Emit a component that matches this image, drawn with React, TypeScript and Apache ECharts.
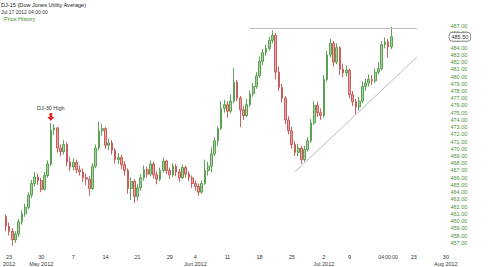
import React, { useEffect, useRef } from 'react';
import * as echarts from 'echarts';

// Trading days shown on the axis (Apr 20 has one bar, Jul 30 one future slot)
const tradingDays: string[] = [
  '2012-04-20',
  '2012-04-23', '2012-04-24', '2012-04-25', '2012-04-26', '2012-04-27',
  '2012-04-30', '2012-05-01', '2012-05-02', '2012-05-03', '2012-05-04',
  '2012-05-07', '2012-05-08', '2012-05-09', '2012-05-10', '2012-05-11',
  '2012-05-14', '2012-05-15', '2012-05-16', '2012-05-17', '2012-05-18',
  '2012-05-21', '2012-05-22', '2012-05-23', '2012-05-24', '2012-05-25',
  '2012-05-29', '2012-05-30', '2012-05-31', '2012-06-01',
  '2012-06-04', '2012-06-05', '2012-06-06', '2012-06-07', '2012-06-08',
  '2012-06-11', '2012-06-12', '2012-06-13', '2012-06-14', '2012-06-15',
  '2012-06-18', '2012-06-19', '2012-06-20', '2012-06-21', '2012-06-22',
  '2012-06-25', '2012-06-26', '2012-06-27', '2012-06-28', '2012-06-29',
  '2012-07-02', '2012-07-03', '2012-07-05', '2012-07-06',
  '2012-07-09', '2012-07-10', '2012-07-11', '2012-07-12', '2012-07-13',
  '2012-07-16', '2012-07-17',
  '2012-07-18', '2012-07-19', '2012-07-20',
  '2012-07-23', '2012-07-24', '2012-07-25', '2012-07-26', '2012-07-27',
  '2012-07-30',
];

// Week tick labels: [date, day text, month text]
const weekTicks: [string, string, string][] = [
  ['2012-04-23', '23', '2012'],
  ['2012-04-30', '30', 'May 2012'],
  ['2012-05-07', '7', ''],
  ['2012-05-14', '14', ''],
  ['2012-05-21', '21', ''],
  ['2012-05-29', '29', ''],
  ['2012-06-04', '4', 'Jun 2012'],
  ['2012-06-11', '11', ''],
  ['2012-06-18', '18', ''],
  ['2012-06-25', '25', ''],
  ['2012-07-02', '2', 'Jul 2012'],
  ['2012-07-09', '9', ''],
  ['2012-07-23', '23', ''],
  ['2012-07-30', '30', 'Aug 2012'],
];

// Candles: [open, close, low, high]
const ohlc: number[][] = [
  [460.6, 459.3, 458.6, 460.9], [459.3, 458.6, 458.0, 459.8], [458.6, 457.4, 456.6, 459.0], [457.4, 458.2, 457.0, 458.6],
  [458.2, 459.9, 457.8, 460.3], [459.9, 461.0, 459.5, 461.5], [461.0, 461.9, 460.6, 462.4], [461.9, 463.6, 461.6, 464.0],
  [463.6, 465.2, 463.2, 465.7], [465.2, 466.1, 464.8, 466.8], [466.1, 465.6, 465.0, 466.6], [465.6, 464.4, 464.0, 466.0],
  [464.4, 466.3, 464.2, 466.8], [466.3, 467.9, 466.0, 468.4], [467.9, 472.6, 467.6, 473.6], [472.6, 472.9, 471.9, 473.4],
  [472.9, 470.1, 469.5, 473.0], [470.1, 469.6, 469.0, 470.6], [469.6, 470.6, 469.2, 471.2], [470.6, 468.2, 467.6, 470.9],
  [468.2, 467.5, 466.9, 468.9], [467.5, 468.1, 467.0, 468.7], [468.1, 467.1, 466.6, 468.5], [467.1, 466.8, 466.3, 467.7],
  [466.8, 466.0, 465.4, 467.3], [466.0, 465.8, 465.0, 466.6], [465.8, 464.5, 463.5, 466.2], [464.5, 467.6, 464.3, 468.0],
  [467.6, 470.1, 467.3, 470.6], [470.1, 472.5, 469.8, 473.8], [472.5, 472.8, 471.8, 473.4], [472.8, 470.5, 470.0, 473.0],
  [470.5, 470.8, 469.8, 471.4], [470.8, 469.8, 469.2, 471.2], [469.8, 468.5, 468.0, 470.1], [468.5, 468.8, 467.9, 469.4],
  [468.8, 467.8, 467.2, 469.2], [467.8, 467.0, 466.3, 468.3], [467.0, 464.5, 463.8, 467.3], [464.5, 465.5, 462.9, 466.0],
  [465.5, 463.4, 462.5, 465.8], [463.4, 464.6, 462.8, 465.1], [464.6, 466.0, 464.2, 466.5], [466.0, 467.1, 465.6, 467.7],
  [467.1, 466.5, 466.0, 467.5], [466.5, 467.9, 466.2, 468.4], [467.9, 466.4, 465.9, 468.2], [466.4, 465.8, 465.1, 466.9],
  [465.8, 467.0, 465.5, 467.4], [467.0, 468.3, 466.7, 468.8], [468.3, 467.0, 466.5, 468.5], [467.0, 466.4, 465.8, 467.4],
  [466.4, 467.6, 466.1, 468.0], [467.6, 466.8, 466.2, 467.9], [466.8, 466.0, 465.4, 467.2], [466.0, 467.4, 465.8, 467.8],
  [467.4, 466.5, 466.0, 467.7], [466.5, 466.0, 465.5, 466.9], [466.0, 465.2, 464.6, 466.3], [465.2, 464.8, 464.2, 465.6],
  [464.8, 464.0, 463.5, 465.2], [464.0, 465.2, 463.8, 465.6], [465.2, 467.0, 465.0, 468.5], [467.0, 467.6, 466.3, 468.2],
  [467.6, 469.3, 466.8, 470.2], [469.3, 471.1, 469.0, 471.6], [471.1, 472.8, 470.4, 473.1], [472.8, 475.6, 472.6, 476.6],
  [475.6, 476.1, 475.0, 476.8], [476.1, 475.2, 474.3, 476.6], [475.2, 476.6, 474.9, 477.5], [476.6, 479.2, 476.3, 481.2],
  [479.2, 477.0, 476.6, 479.5], [477.0, 475.4, 473.0, 477.3], [475.4, 474.6, 474.0, 475.9], [474.6, 476.1, 474.4, 476.9],
  [476.1, 477.6, 475.8, 478.1], [477.6, 478.6, 477.2, 479.1], [478.6, 480.1, 478.3, 480.6], [480.1, 482.1, 479.8, 482.8],
  [482.1, 483.3, 481.6, 483.8], [483.3, 483.9, 482.9, 484.4], [483.9, 485.0, 483.6, 485.5], [485.0, 485.7, 484.6, 486.4],
  [485.7, 480.6, 479.6, 486.0], [480.6, 478.5, 478.0, 481.4], [478.5, 477.0, 476.4, 479.0], [477.0, 474.0, 473.4, 477.3],
  [474.0, 472.5, 472.0, 474.5], [472.5, 470.6, 470.0, 473.0], [470.6, 469.5, 469.0, 471.1], [469.5, 470.1, 469.0, 470.7],
  [470.1, 468.5, 467.9, 470.4], [468.5, 469.9, 468.2, 470.4], [469.9, 471.1, 469.6, 471.6], [471.1, 473.6, 470.8, 474.1],
  [473.6, 476.0, 473.3, 476.6], [476.0, 475.0, 474.4, 476.5], [475.0, 474.6, 474.0, 475.6], [474.6, 479.6, 474.3, 480.2],
  [479.6, 483.0, 479.3, 483.6], [483.0, 484.6, 482.6, 485.2], [484.6, 482.0, 481.4, 484.9], [482.0, 484.0, 481.7, 484.6],
  [484.0, 481.0, 480.2, 484.2], [481.0, 480.5, 479.9, 481.8], [480.5, 480.9, 480.0, 481.5], [480.9, 477.5, 477.0, 481.1],
  [477.5, 476.5, 475.9, 478.0], [476.5, 475.8, 474.8, 476.9], [475.8, 476.6, 475.3, 477.2], [476.6, 478.6, 476.3, 479.3],
  [478.6, 479.1, 478.0, 479.7], [479.1, 479.6, 478.6, 480.3], [479.6, 479.4, 478.8, 480.2], [479.4, 480.6, 479.1, 481.1],
  [480.6, 481.1, 480.3, 482.0], [481.1, 484.4, 480.8, 484.9], [484.4, 484.8, 483.9, 485.4], [484.8, 484.1, 482.6, 485.2],
  [484.1, 485.5, 483.8, 486.9],
];

const lastPrice = 485.5;
const resistanceLevel = 486.7;
const trendStart = 466.8;
const trendEnd = 482.7;
const dj30HighLevel = 474.4;

const FONT = 'Liberation Sans';

export default function App() {
  const ref = useRef<HTMLDivElement>(null);

  useEffect(() => {
    if (!ref.current) return;
    document.body.style.margin = '0';
    const chart = echarts.init(ref.current, undefined, { renderer: 'svg' });

    const categories: string[] = [];
    tradingDays.forEach((d, i) => {
      if (i === 0) categories.push(d + ' 2');
      else if (i === tradingDays.length - 1) categories.push(d + ' 1');
      else { categories.push(d + ' 1'); categories.push(d + ' 2'); }
    });
    const tickMap: Record<string, string> = {};
    weekTicks.forEach(([d, day, mon]) => {
      tickMap[d + ' 1'] = mon ? day + '\n' + mon : day;
    });

    chart.setOption({
      animation: false,
      backgroundColor: '#ffffff',
      textStyle: { fontFamily: FONT },
      grid: { left: 1.5, right: 42.5, top: 18.7, bottom: 15.8 },
      graphic: [
        { type: 'text', left: 1, top: 1.5, style: { text: 'DJ-15 (Dow Jones Utility Average)', fontSize: 5.6, fontFamily: FONT, fill: '#222' } },
        { type: 'text', left: 1, top: 9, style: { text: 'Jul 17 2012 04:00:00', fontSize: 5, fontFamily: FONT, fill: '#333' } },
        { type: 'text', left: 4, top: 15.5, style: { text: 'Price History', fontSize: 5.5, fontFamily: FONT, fill: '#3c8a2e' } },
      ],
      xAxis: {
        type: 'category',
        data: categories,
        boundaryGap: true,
        axisLine: { show: false },
        axisTick: { show: false },
        splitLine: { show: false },
        axisLabel: {
          interval: (idx: number, val: string) => tickMap[val] !== undefined,
          formatter: (val: string) => tickMap[val] || '',
          fontSize: 5.5,
          lineHeight: 7,
          color: '#333',
          margin: 3,
          fontFamily: FONT,
        },
        axisPointer: {
          show: true,
          status: 'show',
          value: categories[119],
          lineStyle: { opacity: 0 },
          label: {
            show: true,
            formatter: () => '04:00:00',
            fontSize: 5,
            color: '#333',
            backgroundColor: '#fff',
            padding: [1, 2],
            margin: 3,
            fontFamily: FONT,
          },
        },
      },
      yAxis: {
        type: 'value',
        position: 'right',
        min: 456,
        max: 488,
        interval: 1,
        axisLine: { show: false },
        axisTick: { show: false },
        splitLine: { show: false },
        axisLabel: {
          formatter: (v: number) => v.toFixed(2),
          fontSize: 5.5,
          color: '#4e8f3a',
          margin: 3,
          showMinLabel: false,
          showMaxLabel: false,
          fontFamily: FONT,
        },
        axisPointer: {
          show: true,
          status: 'show',
          value: lastPrice,
          lineStyle: { opacity: 0 },
          label: {
            show: true,
            formatter: () => lastPrice.toFixed(2),
            fontSize: 5.5,
            color: '#333',
            backgroundColor: '#fff',
            borderColor: '#777',
            borderWidth: 0.8,
            padding: [1, 2],
            margin: 2,
            fontFamily: FONT,
          },
        },
      },
      series: [
        {
          type: 'candlestick',
          data: ohlc,
          barWidth: 2.2,
          itemStyle: {
            color: '#a4d39c',
            color0: '#e2a7a7',
            borderColor: '#4f9a46',
            borderColor0: '#c2504e',
            borderWidth: 0.9,
          },
          markLine: {
            silent: true,
            symbol: 'none',
            label: { show: false },
            lineStyle: { color: '#bdbdbd', width: 1, type: 'solid' },
            data: [
              [{ coord: [categories[76], resistanceLevel] }, { coord: [categories[128], resistanceLevel] }],
              [{ coord: [categories[90], trendStart] }, { coord: [categories[128], trendEnd] }],
            ],
          },
          markPoint: {
            silent: true,
            data: [
              {
                name: 'DJ-30 High',
                coord: [categories[14], dj30HighLevel],
                symbol: 'path://M3,0 L7,0 L7,5 L10,5 L5,10 L0,5 L3,5 Z',
                symbolSize: [7, 8],
                itemStyle: { color: '#e8262a' },
                label: {
                  show: true,
                  position: 'top',
                  distance: 2,
                  formatter: 'DJ-30 High',
                  fontSize: 5.5,
                  color: '#333',
                  fontFamily: FONT,
                },
              },
            ],
          },
        },
      ],
    });

    return () => chart.dispose();
  }, []);

  return <div ref={ref} style={{ width: 490, height: 267, position: 'fixed', left: 0, top: 0 }} />;
}
